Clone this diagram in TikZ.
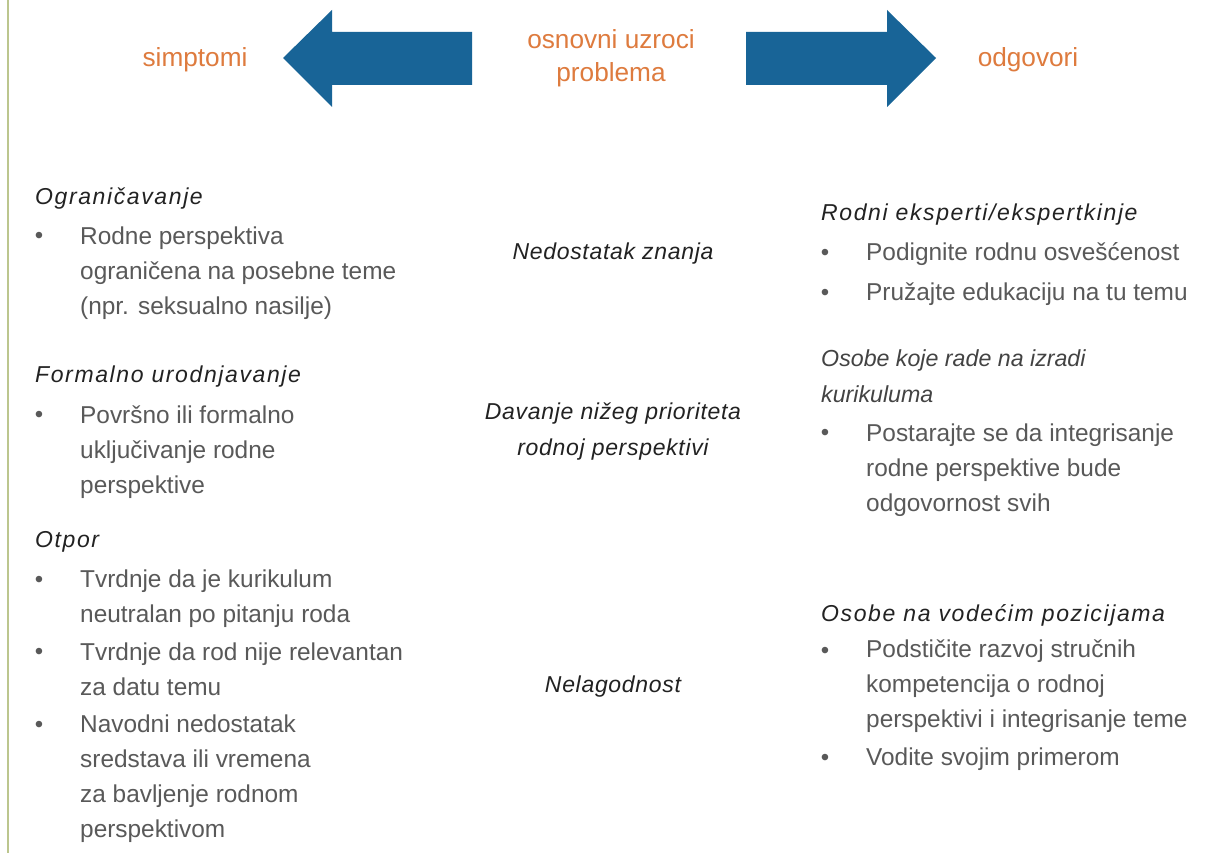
\documentclass[tikz,border=0pt]{standalone}
\usepackage{fontspec}
\setmainfont{Liberation Sans}
\newfontfamily\hdfont[LetterSpace=7]{Liberation Sans}
\newfontfamily\midfont[LetterSpace=3]{Liberation Sans}
\definecolor{arrowblue}{HTML}{186497}
\definecolor{titleorange}{HTML}{DE7B3E}
\definecolor{headtxt}{HTML}{222222}
\definecolor{bodytxt}{HTML}{595959}
\definecolor{rulegreen}{HTML}{BCC68E}
\tikzset{
  title/.style={inner sep=0pt, text=titleorange, align=center,
    font=\fontsize{26.2}{33}\selectfont},
  hdr/.style={inner sep=0pt, anchor=base west, text=headtxt,
    font=\hdfont\itshape\fontsize{23}{35}\selectfont},
  subhdr/.style={inner sep=0pt, anchor=base west, text=headtxt!85!white, align=left,
    font=\itshape\fontsize{23.2}{36}\selectfont},
  cause/.style={inner sep=0pt, anchor=base, text=headtxt, align=center,
    font=\midfont\itshape\fontsize{23}{36}\selectfont},
  body/.style={inner sep=0pt, anchor=base west, text=bodytxt, align=left,
    font=\fontsize{24.4}{35}\selectfont},
  bul/.style={inner sep=0pt, anchor=base, text=bodytxt,
    font=\fontsize{24}{35}\selectfont},
  bigarrow/.style={fill=arrowblue, draw=none}
}
% item: name, bullet x, text x, first baseline y, last baseline y, text
% (a multi-line node sits on the baseline of its last line)
\newcommand{\listitem}[6]{%
  \node[bul] (#1-b) at (#2,#4) {\textbullet};
  \node[body] (#1) at (#3,#5) {#6};}
\begin{document}
\begin{tikzpicture}[x=1pt,y=-1pt]
\useasboundingbox (0,0) rectangle (1208,853);
\fill[white] (0,0) rectangle (1208,853);
% left margin rule
\draw[rulegreen, line width=1.5pt] (8,0) -- (8,853);

% header row
\fill[bigarrow] (283,58) -- (332,10) -- (332,32) -- (472,32) -- (472,85)
  -- (332,85) -- (332,107) -- cycle;
\fill[bigarrow] (936,58) -- (887,10) -- (887,32) -- (746,32) -- (746,85)
  -- (887,85) -- (887,107) -- cycle;
\node[title, anchor=base] (simp) at (195,67) {simptomi};
\node[title, anchor=base] (uzr) at (611,82) {osnovni uzroci\\problema};
\node[title, anchor=base] (odg) at (1028,67) {odgovori};

% symptoms
\node[hdr] (h1) at (35,205) {Ograničavanje};
\listitem{s1}{39}{80}{244}{314}{Rodne perspektiva\\ograničena na posebne teme\\(npr. seksualno nasilje)}
\node[hdr] (h2) at (35,382) {Formalno urodnjavanje};
\listitem{s2}{39}{80}{422}{493}{Površno ili formalno\\uključivanje rodne\\perspektive}
\node[hdr] (h3) at (35,547) {Otpor};
\listitem{s3}{39}{80}{587}{622}{Tvrdnje da je kurikulum\\neutralan po pitanju roda}
\listitem{s4}{39}{80}{659}{695}{Tvrdnje da rod nije relevantan\\za datu temu}
\listitem{s5}{39}{80}{732}{837}{Navodni nedostatak\\sredstava ili vremena\\za bavljenje rodnom\\perspektivom}

% root causes
\node[cause] (c1) at (613,260) {Nedostatak znanja};
\node[cause] (c2) at (613,455) {Davanje nižeg prioriteta\\rodnoj perspektivi};
\node[cause] (c3) at (613,692) {Nelagodnost};

% responses
\node[hdr] (r1) at (821,221) {Rodni eksperti/ekspertkinje};
\listitem{o1}{825}{866}{261}{261}{Podignite rodnu osvešćenost}
\listitem{o2}{825}{866}{300}{300}{Pružajte edukaciju na tu temu}
\node[subhdr] (r2) at (821,402) {Osobe koje rade na izradi\\kurikuluma};
\listitem{o3}{825}{866}{440}{511}{Postarajte se da integrisanje\\rodne perspektive bude\\odgovornost svih}
\node[hdr] (r3) at (821,621) {Osobe na vodećim pozicijama};
\listitem{o4}{825}{866}{658}{727}{Podstičite razvoj stručnih\\kompetencija o rodnoj\\perspektivi i integrisanje teme}
\listitem{o5}{825}{866}{765}{765}{Vodite svojim primerom}
\end{tikzpicture}
\end{document}
